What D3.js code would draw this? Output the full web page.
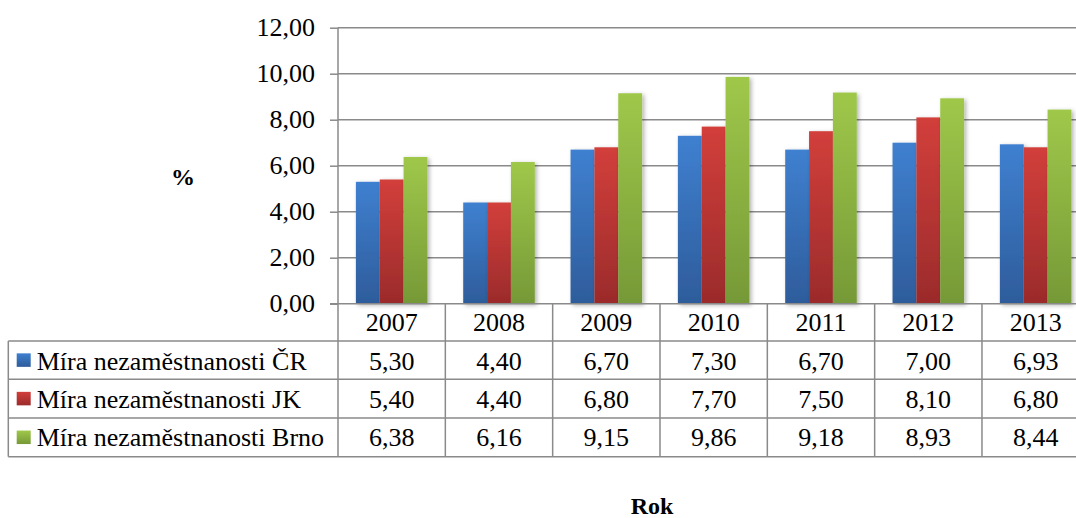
<!DOCTYPE html>
<html><head><meta charset="utf-8">
<script src="https://cdn.jsdelivr.net/npm/d3@7"></script>
<style>html,body{margin:0;padding:0;background:#fff;overflow:hidden}</style>
</head><body>
<svg id="c" width="1076" height="518"></svg>
<script>
const years = ["2007","2008","2009","2010","2011","2012","2013"];
const seriesNames = ["Míra nezaměstnanosti ČR","Míra nezaměstnanosti JK","Míra nezaměstnanosti Brno"];
const valuesCR = [5.30, 4.40, 6.70, 7.30, 6.70, 7.00, 6.93];
const valuesJK = [5.40, 4.40, 6.80, 7.70, 7.50, 8.10, 6.80];
const valuesBrno = [6.38, 6.16, 9.15, 9.86, 9.18, 8.93, 8.44];
const yTicks = [0, 2, 4, 6, 8, 10, 12];
const yAxisTitle = "%";
const xAxisTitle = "Rok";

const series = [valuesCR, valuesJK, valuesBrno];
const colors = [
  {top:"#3f80d0", bot:"#2e5c9b"},
  {top:"#d23f3b", bot:"#9b2b2b"},
  {top:"#9fc84a", bot:"#769937"}
];
const fmt = v => v.toFixed(2).replace(".", ",");

const svg = d3.select("#c");
const FONT = '"Liberation Serif", Tinos, "Times New Roman"';
const fs = 26;
const gridCol = "#8a8a8a";

const x0 = 338, step = 107.33;
const x = d3.scaleBand().domain(years).range([x0, x0 + step*years.length]).paddingInner(0).paddingOuter(0);
const xs = d3.scaleBand().domain(d3.range(3)).range([0, x.bandwidth()]).paddingInner(0).paddingOuter(0.75);
const y = d3.scaleLinear().domain([0, 12]).range([303.7, 27.7]);

const defs = svg.append("defs");
colors.forEach((c,i)=>{
  const g = defs.append("linearGradient").attr("id","g"+i).attr("x1",0).attr("y1",0).attr("x2",0).attr("y2",1);
  g.append("stop").attr("offset","0%").attr("stop-color",c.top);
  g.append("stop").attr("offset","100%").attr("stop-color",c.bot);
});
const f = defs.append("filter").attr("id","sh").attr("x","-20%").attr("y","-10%").attr("width","150%").attr("height","130%");
f.append("feDropShadow").attr("dx",2).attr("dy",1.5).attr("stdDeviation",2).attr("flood-color","#000").attr("flood-opacity",0.3);

// gridlines
svg.append("g").selectAll("line").data(yTicks.filter(t=>t>0)).join("line")
  .attr("x1", x0).attr("x2", 1076).attr("y1", d=>y(d)).attr("y2", d=>y(d))
  .attr("stroke", gridCol).attr("stroke-width", 1.5);

// y axis
const yAxis = d3.axisLeft(y).tickValues(yTicks).tickFormat(fmt).tickSize(8).tickPadding(15);
const ya = svg.append("g").attr("transform", `translate(${x0},0)`).call(yAxis);
ya.select(".domain").remove();
ya.selectAll(".tick line").attr("stroke", gridCol).attr("stroke-width", 1.5);
ya.selectAll(".tick text").style("font-family", FONT).style("font-size", fs+"px").attr("fill", "#000").attr("dy","0.3em");

// bars
const gBars = svg.append("g");
series.forEach((vals, si)=>{
  gBars.append("g").selectAll("rect").data(years.map((yr,i)=>({yr, v: vals[i]}))).join("rect")
    .attr("x", d=>x(d.yr)+xs(si)).attr("width", xs.bandwidth())
    .attr("y", d=>y(d.v)).attr("height", d=>y(0)-y(d.v))
    .attr("fill", `url(#g${si})`).attr("filter","url(#sh)");
});

// axis / table lines
const tl = svg.append("g").attr("stroke", gridCol).attr("stroke-width", 1.5);
tl.append("line").attr("x1", x0).attr("x2", x0).attr("y1", y(12)).attr("y2", 456.7);
const rowY = [303.7, 341, 379.3, 418, 456.7];
tl.append("line").attr("x1", 330).attr("x2", 1076).attr("y1", rowY[0]).attr("y2", rowY[0]);
rowY.slice(1).forEach(r=>tl.append("line").attr("x1", 8.3).attr("x2", 1076).attr("y1", r).attr("y2", r));
tl.append("line").attr("x1", 8.3).attr("x2", 8.3).attr("y1", rowY[1]).attr("y2", rowY[4]);
years.forEach(yr=>{
  const xe = x(yr) + x.bandwidth();
  tl.append("line").attr("x1", xe).attr("x2", xe).attr("y1", rowY[0]).attr("y2", rowY[4]);
});

const txt = sel => sel.style("font-family", FONT).style("font-size", fs+"px").attr("fill","#000");

// header years
svg.append("g").selectAll("text").data(years).join("text")
  .attr("x", d=>x(d)+x.bandwidth()/2).attr("y", 330.7)
  .attr("text-anchor","middle").call(txt).text(d=>d);

// rows
series.forEach((vals, si)=>{
  const base = [370, 407.5, 445.7][si];
  const cy = (rowY[si+1]+rowY[si+2])/2;
  svg.append("rect").attr("x", 16.7).attr("y", cy-6.8).attr("width", 14).attr("height", 13.5).attr("fill", `url(#g${si})`);
  svg.append("text").attr("x", 36.7).attr("y", base).call(txt).text(seriesNames[si]);
  svg.append("g").selectAll("text").data(vals).join("text")
    .attr("x", (d,i)=>x(years[i])+x.bandwidth()/2).attr("y", base)
    .attr("text-anchor","middle").call(txt).text(d=>fmt(d));
});

// axis titles
svg.append("text").attr("x", 183).attr("y", 185).attr("text-anchor","middle")
  .style("font-family", FONT).style("font-weight","bold").style("font-size","24px").text(yAxisTitle);
svg.append("text").attr("x", 652).attr("y", 514).attr("text-anchor","middle")
  .style("font-family", FONT).style("font-weight","bold").style("font-size","24px").text(xAxisTitle);
</script>
</body></html>
